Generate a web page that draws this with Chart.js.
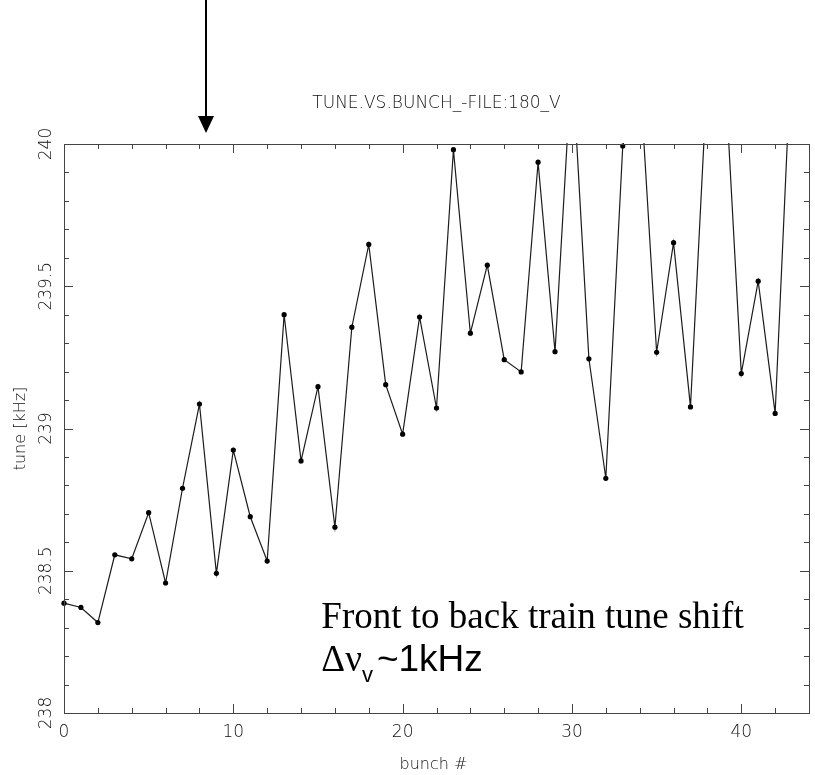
<!DOCTYPE html>
<html>
<head>
<meta charset="utf-8">
<script src="https://cdn.jsdelivr.net/npm/chart.js@4.4.0/dist/chart.umd.min.js"></script>
<style>
  html, body { margin: 0; padding: 0; background: #fff; }
</style>
</head>
<body>
<canvas id="tune-chart" width="815" height="775"></canvas>
<script>
// bunch number vs measured vertical tune (kHz); values above 240 run off the top of the frame
const bunches = [0, 1, 2, 3, 4, 5, 6, 7, 8, 9, 10, 11, 12, 13, 14, 15, 16, 17, 18, 19, 20, 21,
                 22, 23, 24, 25, 26, 27, 28, 29, 30, 31, 32, 33, 34, 35, 36, 37, 38, 39, 40, 41, 42, 43];
const tuneKHz = [238.386, 238.371, 238.318, 238.556, 238.542, 238.704, 238.457, 238.790, 239.086, 238.491,
                 238.924, 238.690, 238.534, 239.400, 238.886, 239.147, 238.653, 239.356, 239.647, 239.154,
                 238.980, 239.392, 239.072, 239.980, 239.335, 239.574, 239.242, 239.199, 239.936, 239.270,
                 240.300, 239.245, 238.825, 239.993, 240.250, 239.268, 239.653, 239.076, 240.250, 240.290,
                 239.193, 239.518, 239.053, 240.380];
const xTickLabels = [0, 10, 20, 30, 40];
const yTickLabels = ['238', '238.5', '239', '239.5', '240'];

const chartTitle = 'TUNE.VS.BUNCH_-FILE:180_V';
const xTitle = 'bunch #';
const yTitle = 'tune [kHz]';
const noteLine1 = 'Front to back train tune shift';
const arrowBunch = 8.4;          // arrow marks this bunch
const noteAt = { x: 15.2, y1: 238.298, y2: 238.147 };

const axisFont = '"DejaVu Sans", sans-serif';
const axisColor = '#111';

// frame, inward ticks, rotated y labels and the annotations
const decorations = {
    id: 'decorations',
    afterDraw(chart) {
        const { ctx, chartArea: a, scales } = chart;
        const xs = scales.x, ys = scales.y;
        ctx.save();

        // frame
        ctx.strokeStyle = '#444';
        ctx.lineWidth = 1;
        ctx.strokeRect(a.left + 0.5, a.top + 0.5, a.right - a.left, a.bottom - a.top);

        // x ticks every 2, long at every 10 (bottom and top)
        ctx.beginPath();
        for (let v = 2; v < xs.max; v += 2) {
            const px = Math.round(xs.getPixelForValue(v)) + 0.5;
            const len = v % 10 === 0 ? 9 : 5;
            ctx.moveTo(px, a.bottom); ctx.lineTo(px, a.bottom - len);
            ctx.moveTo(px, a.top); ctx.lineTo(px, a.top + len);
        }
        // y ticks every 0.1, long at every 0.5 (left and right)
        for (let i = 1; i < 20; i++) {
            const py = Math.round(ys.getPixelForValue(ys.min + i * 0.1)) + 0.5;
            const len = i % 5 === 0 ? 9 : 5;
            ctx.moveTo(a.left, py); ctx.lineTo(a.left + len, py);
            ctx.moveTo(a.right, py); ctx.lineTo(a.right - len, py);
        }
        ctx.stroke();

        // rotated y tick labels
        ctx.fillStyle = axisColor;
        ctx.font = '200 17px ' + axisFont;
        ctx.textAlign = 'center';
        ctx.textBaseline = 'middle';
        yTickLabels.forEach(lbl => {
            const py = ys.getPixelForValue(parseFloat(lbl));
            ctx.save();
            ctx.translate(a.left - 17, py);
            ctx.rotate(-Math.PI / 2);
            ctx.fillText(lbl, 0, 0);
            ctx.restore();
        });

        // axis titles
        ctx.font = '200 16px ' + axisFont;
        ctx.save();
        ctx.translate(21, (a.top + a.bottom) / 2);
        ctx.rotate(-Math.PI / 2);
        ctx.fillText(yTitle, 0, 0);
        ctx.restore();
        ctx.fillText(xTitle, (a.left + a.right) / 2 - 3, 765);

        // title
        ctx.font = '200 17px ' + axisFont;
        ctx.fillText(chartTitle, (a.left + a.right) / 2, a.top - 40);

        // arrow
        const ax = Math.round(xs.getPixelForValue(arrowBunch));
        ctx.fillStyle = '#000';
        ctx.fillRect(ax - 1, 0, 2, 118);
        ctx.beginPath();
        ctx.moveTo(ax - 8, 116);
        ctx.lineTo(ax + 8, 116);
        ctx.lineTo(ax, 133);
        ctx.closePath();
        ctx.fill();

        // annotation
        const nx = xs.getPixelForValue(noteAt.x);
        const b1 = ys.getPixelForValue(noteAt.y1);
        const b2 = ys.getPixelForValue(noteAt.y2);
        ctx.textAlign = 'left';
        ctx.textBaseline = 'alphabetic';
        ctx.font = '37px "Liberation Serif", "Times New Roman", serif';
        ctx.fillText(noteLine1, nx, b1);
        const greek = '\u0394\u03bd';
        ctx.fillText(greek, nx, b2);
        let cx = nx + ctx.measureText(greek).width;
        ctx.font = '22px "Liberation Sans", Arial, sans-serif';
        ctx.fillText('v', cx, b2 + 11);
        cx += ctx.measureText('v').width + 4;
        ctx.font = '37px "Liberation Sans", Arial, sans-serif';
        ctx.fillText('~1kHz', cx, b2);

        ctx.restore();
    }
};

const ctx = document.getElementById('tune-chart').getContext('2d');
new Chart(ctx, {
    type: 'line',
    data: {
        datasets: [{
            data: bunches.map((b, i) => ({ x: b, y: tuneKHz[i] })),
            borderColor: '#1c1c1c',
            borderWidth: 1.2,
            pointRadius: 2.6,
            pointBackgroundColor: '#000',
            pointBorderWidth: 0,
            tension: 0,
            clip: { left: 4, top: 1, right: 1, bottom: 1 }
        }]
    },
    options: {
        responsive: false,
        animation: false,
        layout: { padding: { top: 144, right: 6, left: 0, bottom: 0 } },
        plugins: {
            legend: { display: false },
            tooltip: { enabled: false }
        },
        scales: {
            x: {
                type: 'linear',
                min: 0,
                max: 44,
                grid: { display: false, drawTicks: false },
                border: { display: false },
                afterBuildTicks: s => { s.ticks = xTickLabels.map(v => ({ value: v })); },
                ticks: {
                    padding: 9,
                    color: axisColor,
                    font: { family: axisFont, size: 17, weight: 200 },
                    maxRotation: 0
                },
                afterFit: s => { s.height = 62; }
            },
            y: {
                type: 'linear',
                min: 238,
                max: 240,
                grid: { display: false, drawTicks: false },
                border: { display: false },
                ticks: { display: false },
                afterFit: s => { s.width = 64; }
            }
        }
    },
    plugins: [decorations]
});
</script>
</body>
</html>
